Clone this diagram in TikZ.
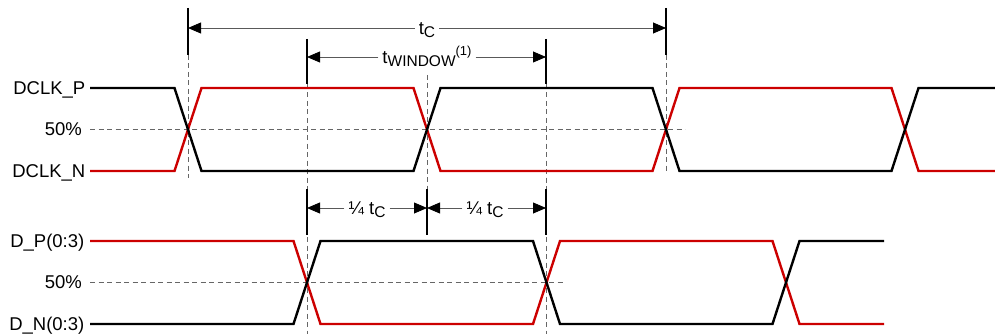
\documentclass[tikz,border=0pt]{standalone}
\usepackage{fontspec}
\setmainfont{Liberation Sans}
\usetikzlibrary{arrows.meta}
\definecolor{sigred}{RGB}{204,0,0}
\newcommand{\tsub}[1]{\raisebox{-3pt}{\fontsize{15.5}{15.5}\selectfont #1}}
\newcommand{\tsup}[1]{\raisebox{8pt}{\fontsize{13}{13}\selectfont #1}}
\tikzset{
  lbl/.style={anchor=east,inner sep=0pt,text height=13.2pt,text depth=0pt,
    font=\fontsize{18.5}{18.5}\selectfont},
  dimlbl/.style={fill=white,inner sep=4pt,text height=13.2pt,text depth=0pt,
    font=\fontsize{18.5}{18.5}\selectfont},
  sig/.style={line width=2.4pt,line join=miter},
  guide/.style={black!60,line width=0.8pt,dash pattern=on 5pt off 3.5pt},
  tick/.style={line width=2pt},
  dimarrow/.style={black!65,line width=0.8pt,
    -{Triangle[length=13pt,width=11pt,color=black]}}
}

\begin{document}
\begin{tikzpicture}[x=1pt,y=-1pt]
  \useasboundingbox (0,0) rectangle (995,334);
  % signal names
  \node[lbl] (dclkp) at (85.5,88) {DCLK\_P};
  \node[lbl] (midtop) at (82,129) {50\%};
  \node[lbl] (dclkn) at (85.5,171) {DCLK\_N};
  \node[lbl] (dp) at (84.5,241) {D\_P(0:3)};
  \node[lbl] (midbot) at (82,282) {50\%};
  \node[lbl] (dn) at (84.5,324) {D\_N(0:3)};
  % 50% levels and time references
  \draw[guide] (90,129) -- (685,129);
  \draw[guide] (90,282) -- (565,282);
  \foreach \x/\a/\b in {188/55/178, 307/84/334, 427/75/189, 546/84/334, 666/55/172}
    \draw[guide] (\x,\a) -- (\x,\b);
  \foreach \x/\a/\b in {188/8/55, 666/8/55, 307/39/84, 546/39/84,
                        307/189/235, 427/189/235, 546/189/235}
    \draw[tick] (\x,\a) -- (\x,\b);
  % clock
  \draw[sig,sigred] (90,171) -- (174.5,171) -- (201.5,88) -- (413.5,88) -- (440.5,171)
    -- (652.5,171) -- (679.5,88) -- (891.5,88) -- (918.5,171) -- (995,171);
  \draw[sig] (90,88) -- (174.5,88) -- (201.5,171) -- (413.5,171) -- (440.5,88)
    -- (652.5,88) -- (679.5,171) -- (891.5,171) -- (918.5,88) -- (995,88);
  % data
  \draw[sig,sigred] (90,241) -- (293.5,241) -- (320.5,324) -- (533,324) -- (560,241)
    -- (772.5,241) -- (799.5,324) -- (884,324);
  \draw[sig] (90,324) -- (293.5,324) -- (320.5,241) -- (533,241) -- (560,324)
    -- (772.5,324) -- (799.5,241) -- (884,241);
  % dimensions
  \coordinate (tcl) at (188,28);
  \coordinate (tcr) at (666,28);
  \coordinate (twl) at (307,57);
  \coordinate (twr) at (546,57);
  \coordinate (qa) at (307,208);
  \coordinate (qb) at (427,208);
  \coordinate (qc) at (546,208);
  \node[dimlbl] (tc) at (427,28) {t\tsub{C}};
  \node[dimlbl] (tw) at (427,57) {t\tsub{WINDOW}\tsup{(1)}};
  \node[dimlbl] (q1) at (367,208) {¼ t\tsub{C}};
  \node[dimlbl] (q2) at (485,208) {¼ t\tsub{C}};
  \draw[dimarrow] (tc) -- (tcl);
  \draw[dimarrow] (tc) -- (tcr);
  \draw[dimarrow] (tw) -- (twl);
  \draw[dimarrow] (tw) -- (twr);
  \draw[dimarrow] (q1) -- (qa);
  \draw[dimarrow] (q1) -- (qb);
  \draw[dimarrow] (q2) -- (qb);
  \draw[dimarrow] (q2) -- (qc);
\end{tikzpicture}
\end{document}
